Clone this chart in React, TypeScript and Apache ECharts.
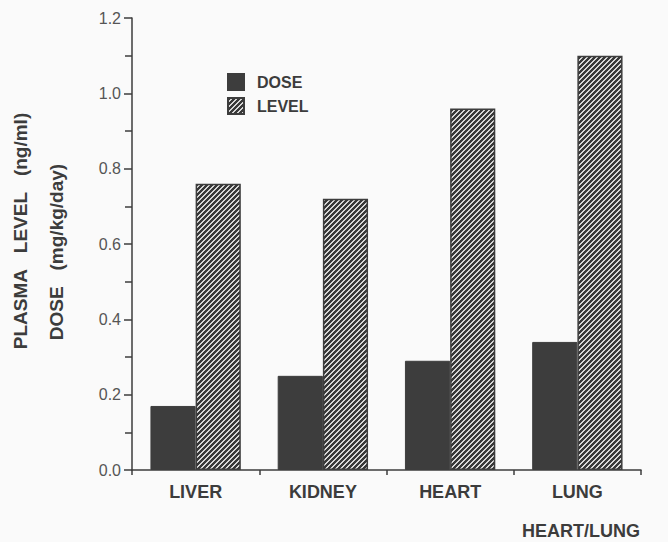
import React, { useEffect, useRef } from "react";
import * as echarts from "echarts";

const categories = ["LIVER", "KIDNEY", "HEART", "LUNG"];
const doseValues = [0.17, 0.25, 0.29, 0.34];
const levelValues = [0.76, 0.72, 0.96, 1.1];
const yTicks = { min: 0, max: 1.2, interval: 0.2 };
const seriesNames = ["DOSE", "LEVEL"];

const FONT = '"Liberation Sans", Arial, Helvetica, sans-serif';
const INK = "#3c3c3c";
const BAR = "#3d3d3d";

function makeHatch(): string {
  const size = 5;
  const c = document.createElement("canvas");
  c.width = size;
  c.height = size;
  const ctx = c.getContext("2d")!;
  const img = ctx.createImageData(size, size);
  for (let y = 0; y < size; y++) {
    for (let x = 0; x < size; x++) {
      const dark = (x + y) % size < 3;
      const v = dark ? 0x38 : 0xd6;
      const i = (y * size + x) * 4;
      img.data[i] = v;
      img.data[i + 1] = v;
      img.data[i + 2] = v;
      img.data[i + 3] = 255;
    }
  }
  ctx.putImageData(img, 0, 0);
  return c.toDataURL();
}

export default function App() {
  const ref = useRef<HTMLDivElement>(null);
  useEffect(() => {
    document.body.style.margin = "0";
    const chart = echarts.init(ref.current!, null, { renderer: "svg" });
    const hatch = makeHatch();
    const hatchFill: any = { image: hatch, repeat: "repeat", imageWidth: 5, imageHeight: 5 };
    chart.setOption({
      animation: false,
      backgroundColor: "#fafafa",
      grid: { left: 132, right: 27, top: 18, bottom: 72, containLabel: false },
      legend: {
        orient: "vertical",
        left: 227,
        top: 73,
        padding: 0,
        itemWidth: 16,
        itemHeight: 16,
        itemGap: 6,
        icon: "rect",
        data: seriesNames,
        textStyle: { fontFamily: FONT, fontWeight: "bold", fontSize: 16, color: INK, padding: [0, 0, 0, 8] },
      },
      xAxis: {
        type: "category",
        data: categories,
        axisLine: { lineStyle: { color: INK, width: 1.5 } },
        axisTick: { show: true, length: 5, interval: 0, lineStyle: { color: INK, width: 1.5 } },
        axisLabel: { margin: 13, fontFamily: FONT, fontWeight: "bold", fontSize: 18, color: INK },
        splitLine: { show: false },
      },
      yAxis: {
        type: "value",
        min: yTicks.min,
        max: yTicks.max,
        interval: yTicks.interval,
        axisLine: { show: true, lineStyle: { color: INK, width: 1.5 } },
        axisTick: { show: true, length: 8, lineStyle: { color: INK, width: 1.5 } },
        minorTick: { show: true, splitNumber: 2, length: 7, lineStyle: { color: INK, width: 1.5 } },
        splitLine: { show: false },
        axisLabel: {
          margin: 11,
          fontFamily: FONT,
          fontSize: 16,
          color: "#555",
          formatter: (v: number) => v.toFixed(1),
        },
      },
      series: [
        {
          name: seriesNames[0],
          type: "bar",
          data: doseValues,
          barWidth: "35.5%",
          barGap: "0%",
          itemStyle: { color: BAR, borderColor: BAR, borderWidth: 1 },
        },
        {
          name: seriesNames[1],
          type: "bar",
          data: levelValues,
          barWidth: "35.5%",
          barGap: "0%",
          itemStyle: { color: hatchFill, borderColor: BAR, borderWidth: 1.5 },
        },
      ],
      graphic: [
        {
          type: "text",
          x: 20,
          y: 231,
          rotation: Math.PI / 2,
          style: {
            text: "PLASMA\u00a0\u00a0\u00a0LEVEL\u00a0\u00a0\u00a0(ng/ml)",
            font: `bold 19px ${FONT}`,
            fill: INK,
            align: "center",
            verticalAlign: "middle",
          },
        },
        {
          type: "text",
          x: 56,
          y: 252,
          rotation: Math.PI / 2,
          style: {
            text: "DOSE\u00a0\u00a0\u00a0(mg/kg/day)",
            font: `bold 19px ${FONT}`,
            fill: INK,
            align: "center",
            verticalAlign: "middle",
          },
        },
        {
          type: "text",
          x: 640,
          y: 531,
          style: {
            text: "HEART/LUNG",
            font: `bold 18px ${FONT}`,
            fill: INK,
            align: "right",
            verticalAlign: "middle",
          },
        },
      ],
    });
    return () => chart.dispose();
  }, []);
  return (
    <div
      ref={ref}
      style={{ position: "absolute", left: 0, top: 0, width: 668, height: 542 }}
    />
  );
}
